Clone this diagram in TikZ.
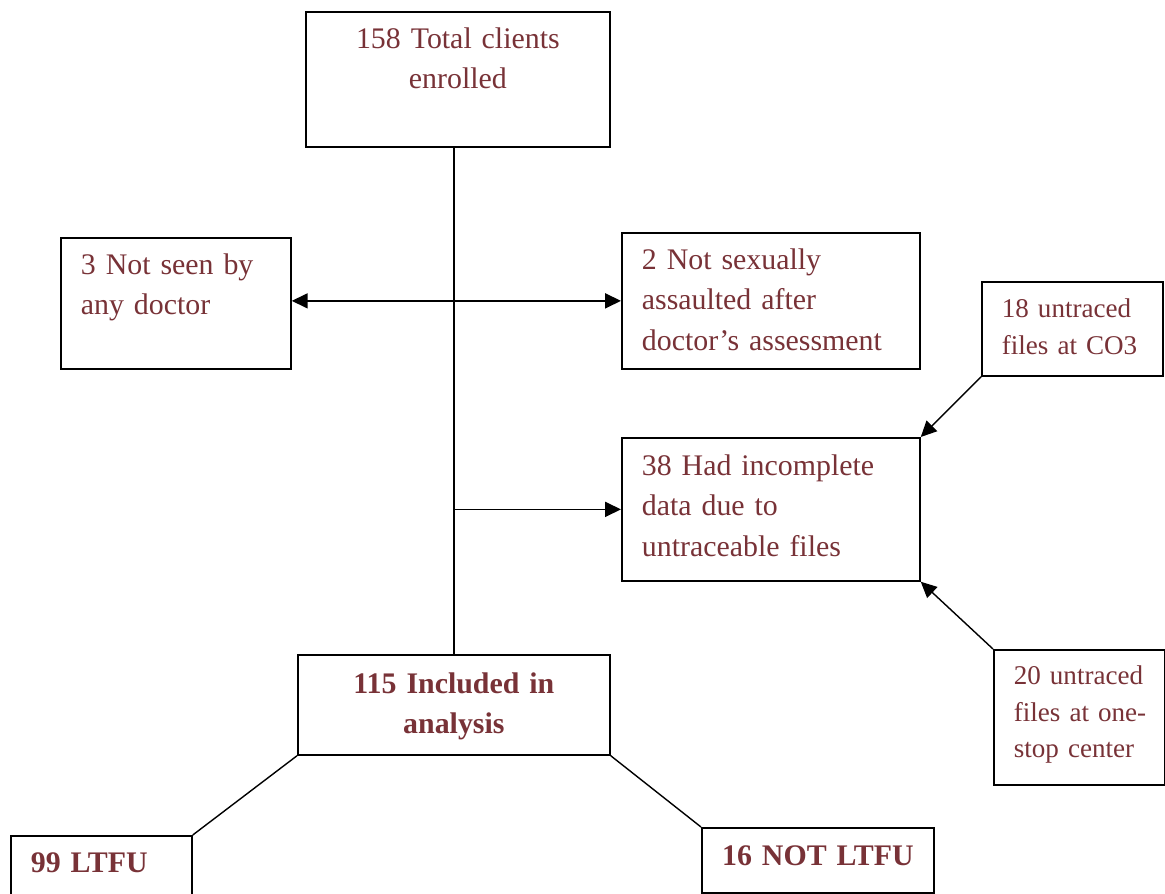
\documentclass[tikz,border=0pt]{standalone}
\usepackage{fontspec}
\setmainfont{Liberation Serif}
\usepackage{tikz}
\usetikzlibrary{calc,arrows.meta,positioning}

\definecolor{boxtext}{RGB}{120,50,55}

\begin{document}
\begin{tikzpicture}[line width=0.8pt, >={Triangle[length=9pt,width=8.5pt]},
    box/.style={draw=black, line width=1pt, inner xsep=0.4cm, inner ysep=0pt,
      anchor=north west, text=boxtext, font=\fontsize{17}{22.8}\selectfont},
    smallbox/.style={box, font=\fontsize{15.4}{20.8}\selectfont},
    boldbox/.style={box, font=\fontsize{17}{22.8}\selectfont\bfseries}]
  \useasboundingbox (0,0) rectangle (23.3,-17.88);
  % flow boxes
  \node[box, align=center, text width=5.28cm, text height=0.74cm, text depth=1.96cm] (enrolled) at (6.10,-0.22) {158 Total clients\\enrolled};
  \node[box, align=left, text width=3.80cm, text height=0.74cm, text depth=1.88cm] (notseen) at (1.20,-4.74) {3 Not seen by\\any doctor};
  \node[box, align=left, text width=5.16cm, text height=0.74cm, text depth=1.98cm] (notassault) at (12.42,-4.64) {2 Not sexually\\assaulted after\\doctor’s assessment};
  \node[smallbox, align=left, text width=2.82cm, text height=0.72cm, text depth=1.16cm] (untracedco) at (19.62,-5.62) {18 untraced\\files at CO3};
  \node[box, align=left, text width=5.16cm, text height=0.76cm, text depth=2.10cm] (incomplete) at (12.42,-8.74) {38 Had incomplete\\data due to\\untraceable files};
  \node[smallbox, align=left, text width=2.62cm, text height=0.70cm, text depth=2.00cm] (untracedone) at (19.86,-12.98) {\mbox{20 untraced}\\\mbox{files at one-}\\\mbox{stop center}};
  \node[boldbox, align=center, text width=5.44cm, text height=0.78cm, text depth=1.22cm] (included) at (5.94,-13.08) {115 Included in\\analysis};
  \node[boldbox, align=left, text width=2.82cm, text height=0.74cm, text depth=0.66cm] (ltfu) at (0.20,-16.70) {99 LTFU};
  \node[boldbox, align=center, text width=3.84cm, text height=0.76cm, text depth=0.54cm] (notltfu) at (14.02,-16.54) {16 NOT LTFU};

  % connectors
  \path[<->] (notseen.east |- notassault.west) edge (notassault.west);
  \path[->]
    (included.north |- incomplete.west) edge (incomplete.west)
    (untracedco.south west) edge (incomplete.north east)
    (untracedone.north west) edge (incomplete.south east);
  \path[-]
    (enrolled.south -| included.north) edge (included.north)
    (included.south west) edge (ltfu.north east)
    (included.south east) edge (notltfu.north west);
\end{tikzpicture}
\end{document}
